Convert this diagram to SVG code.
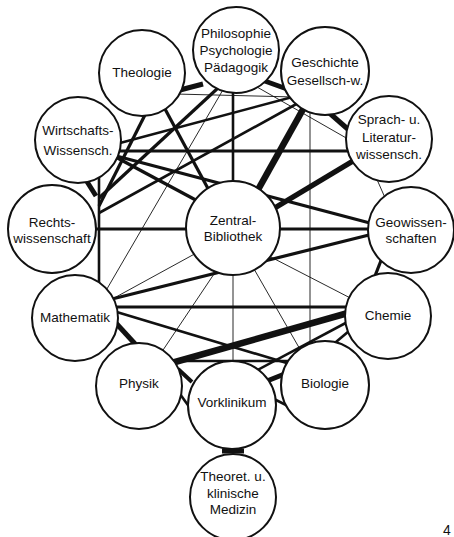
<svg xmlns="http://www.w3.org/2000/svg" width="454" height="537" viewBox="0 0 454 537">
<style>
.bg{fill:#ffffff}
.n circle{fill:#ffffff;stroke:#111111;stroke-width:2}
.n text{font-family:"Liberation Sans","Arial",sans-serif;font-size:13.5px;fill:#111111;text-anchor:middle}
.e line{stroke:#111111;stroke-linecap:butt}
.t{stroke-width:0.9}
.m{stroke-width:2.6}
.k{stroke-width:3.2}
.h{stroke-width:5}
.x{stroke-width:6.5}
.pg{font-family:"Liberation Sans","Arial",sans-serif;font-size:14px;fill:#111111}
</style>
<rect class="bg" x="0" y="0" width="454" height="537"/>
<g id="connectors" class="e">
<line class="t" x1="175" y1="94" x2="295" y2="97"/>
<line class="t" x1="250" y1="83" x2="355" y2="143"/>
<line class="t" x1="224" y1="88" x2="104" y2="294"/>
<line class="t" x1="200" y1="251" x2="105" y2="303"/>
<line class="t" x1="218" y1="268" x2="155" y2="362"/>
<line class="t" x1="265" y1="254" x2="360" y2="303"/>
<line class="t" x1="250" y1="262" x2="305" y2="358"/>
<line class="t" x1="310" y1="100" x2="310" y2="360"/>
<line class="t" x1="233" y1="260" x2="233" y2="380"/>
<line class="t" x1="375" y1="175" x2="386" y2="200"/>
<line class="m" x1="233" y1="80" x2="233" y2="200"/>
<line class="m" x1="99" y1="160" x2="99" y2="300"/>
<line class="k" x1="100" y1="151" x2="370" y2="151"/>
<line class="k" x1="60" y1="229" x2="400" y2="229"/>
<line class="k" x1="90" y1="307" x2="370" y2="307"/>
<line class="m" x1="160" y1="361" x2="300" y2="361"/>
<line class="k" x1="100" y1="302" x2="385" y2="231"/>
<line class="k" x1="105" y1="153" x2="385" y2="227"/>
<line class="m" x1="105" y1="147" x2="300" y2="95"/>
<line class="m" x1="99" y1="213" x2="300" y2="102"/>
<line class="k" x1="158" y1="96" x2="212" y2="196"/>
<line class="k" x1="150" y1="105" x2="99" y2="206"/>
<line class="k" x1="218" y1="88" x2="99" y2="198"/>
<line class="k" x1="110" y1="154" x2="205" y2="205"/>
<line class="m" x1="100" y1="307" x2="300" y2="367"/>
<line class="m" x1="355" y1="318" x2="250" y2="374"/>
<line class="m" x1="355" y1="326" x2="330" y2="347"/>
<line class="k" x1="382" y1="258" x2="373" y2="281"/>
<line class="x" x1="306" y1="104" x2="254" y2="197"/>
<line class="h" x1="358" y1="158" x2="268" y2="212" style="stroke-width:5.5"/>
<line class="x" x1="355" y1="311" x2="168" y2="364"/>
<line class="h" x1="180" y1="90" x2="203" y2="84"/>
<line class="h" x1="262" y1="80" x2="287" y2="89"/>
<line class="h" x1="326" y1="110" x2="350" y2="131"/>
<line class="h" x1="86" y1="180" x2="96" y2="196"/>
<line class="h" x1="115" y1="322" x2="137" y2="346"/>
<line class="h" x1="178" y1="369" x2="192" y2="382" style="stroke-width:4"/>
<line class="m" x1="180" y1="394" x2="190" y2="408"/>
<line class="h" x1="262" y1="383" x2="292" y2="371"/>
<line class="m" x1="272" y1="398" x2="288" y2="406"/>
<line class="h" x1="222" y1="451" x2="244" y2="451"/>
</g>
<g id="philosophie" class="n"><circle cx="236" cy="50" r="43"/><text x="236" y="38">Philosophie</text><text x="236" y="55">Psychologie</text><text x="236" y="72">Pädagogik</text></g>
<g id="theologie" class="n"><circle cx="142" cy="73" r="43"/><text x="142" y="77">Theologie</text></g>
<g id="geschichte" class="n"><circle cx="325" cy="71" r="44"/><text x="325" y="67">Geschichte</text><text x="325" y="85">Gesellsch-w.</text></g>
<g id="wirtschaft" class="n"><circle cx="78" cy="140" r="43"/><text x="78" y="135">Wirtschafts-</text><text x="78" y="155">Wissensch.</text></g>
<g id="sprach" class="n"><circle cx="389" cy="139" r="43"/><text x="389" y="124">Sprach- u.</text><text x="389" y="142">Literatur-</text><text x="389" y="159">wissensch.</text></g>
<g id="rechts" class="n"><circle cx="52" cy="229" r="44"/><text x="52" y="227">Rechts-</text><text x="52" y="243">wissenschaft</text></g>
<g id="zentral" class="n"><circle cx="233" cy="228" r="47"/><text x="233" y="225">Zentral-</text><text x="233" y="241">Bibliothek</text></g>
<g id="geo" class="n"><circle cx="411" cy="230" r="43"/><text x="411" y="227">Geowissen-</text><text x="411" y="243">schaften</text></g>
<g id="mathematik" class="n"><circle cx="75" cy="318" r="43"/><text x="75" y="322">Mathematik</text></g>
<g id="chemie" class="n"><circle cx="388" cy="316" r="43"/><text x="388" y="320">Chemie</text></g>
<g id="physik" class="n"><circle cx="139" cy="386" r="43"/><text x="139" y="388">Physik</text></g>
<g id="biologie" class="n"><circle cx="325" cy="385" r="44"/><text x="325" y="388">Biologie</text></g>
<g id="vorklinikum" class="n"><circle cx="232" cy="405" r="44"/><text x="232" y="407">Vorklinikum</text></g>
<g id="medizin" class="n"><circle cx="233" cy="497" r="43"/><text x="233" y="481">Theoret. u.</text><text x="233" y="498">klinische</text><text x="233" y="514">Medizin</text></g>
<text class="pg" x="443" y="535">4</text>
</svg>
